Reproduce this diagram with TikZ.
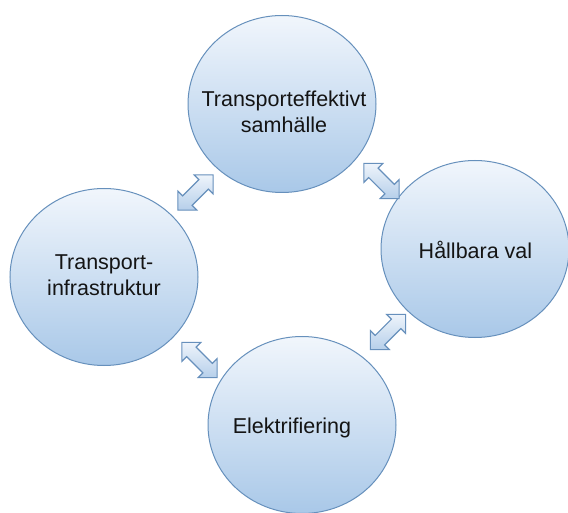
\documentclass[tikz,border=0pt]{standalone}
\usepackage{fontspec}
\setmainfont{Liberation Sans}
\usetikzlibrary{shapes.geometric}
\definecolor{circtop}{HTML}{F1F6FC}
\definecolor{circmid}{HTML}{D4E4F4}
\definecolor{circbot}{HTML}{A9C8E8}
\definecolor{circline}{HTML}{6690BC}
\definecolor{arrtop}{HTML}{EEF4FB}
\definecolor{arrbot}{HTML}{B6CFEA}
\definecolor{arrline}{HTML}{6790BC}
\definecolor{txtcol}{HTML}{141414}
\tikzset{
  circ/.style={ellipse, draw=circline, line width=1pt, top color=circtop, middle color=circmid, bottom color=circbot,
    minimum width=188pt, minimum height=177pt, inner sep=0pt},
  lbl/.style={align=center, text=txtcol, font=\fontsize{21.5}{26}\selectfont, inner sep=0pt},
  blockarrow/.style={draw=arrline, line width=1.1pt, top color=arrtop, bottom color=arrbot, line join=miter}
}
\newcommand\dblarrow[2]{%
  \begin{scope}[shift={(#1)}, rotate=#2]
    \draw[blockarrow] (-25,0) -- (-11.5,13.5) -- (-11.5,6.7) -- (11.5,6.7) -- (11.5,13.5) -- (25,0)
      -- (11.5,-13.5) -- (11.5,-6.7) -- (-11.5,-6.7) -- (-11.5,-13.5) -- cycle;
  \end{scope}}
\begin{document}
\begin{tikzpicture}[x=1pt, y=-1pt]
  \useasboundingbox (0,0) rectangle (568,513);
  \node[circ] (top) at (282,104) {};
  \node[circ] (left) at (104,277) {};
  \node[circ] (right) at (475,249) {};
  \node[circ] (bottom) at (302,425) {};
  \node[lbl] (ttop) at (284,112) {Transporteffektivt\\samhälle};
  \node[lbl] (tleft) at (104,275) {Transport-\\infrastruktur};
  \node[lbl] (tright) at (475.5,250) {Hållbara val};
  \node[lbl] (tbottom) at (292,427.5) {Elektrifiering};
  \coordinate (a1) at (195.5,192.5);
  \coordinate (a2) at (381.5,181);
  \coordinate (a3) at (199.5,360);
  \coordinate (a4) at (388,332);
  \dblarrow{a1}{45}
  \dblarrow{a2}{-45}
  \dblarrow{a3}{-45}
  \dblarrow{a4}{45}
\end{tikzpicture}
\end{document}
